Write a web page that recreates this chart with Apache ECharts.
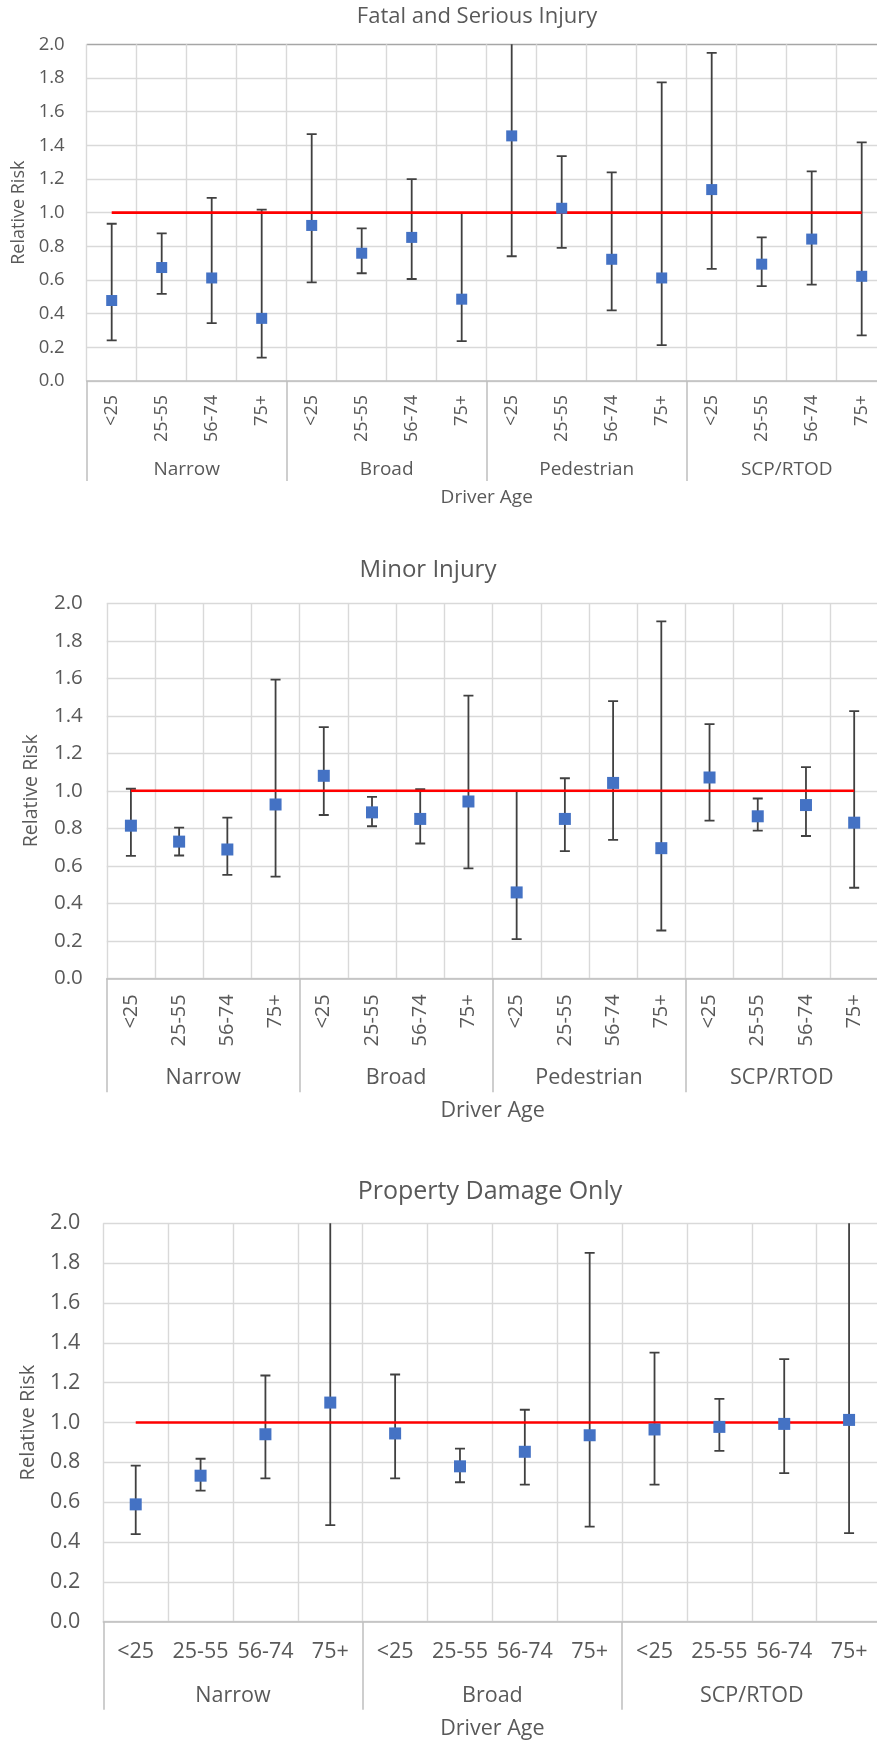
<!DOCTYPE html>
<html>
<head>
<meta charset="utf-8">
<script src="https://cdn.jsdelivr.net/npm/echarts@6/dist/echarts.min.js"></script>
<style>
  html, body { margin: 0; padding: 0; background: #ffffff; }
  #chart { width: 877px; height: 1742px; }
</style>
</head>
<body>
<div id="chart"></div>
<script>
// ---------------- DATA ----------------
const fsiGroups = ['Narrow', 'Broad', 'Pedestrian', 'SCP/RTOD'];
const fsiCats = ['<25', '25-55', '56-74', '75+', '<25', '25-55', '56-74', '75+',
                 '<25', '25-55', '56-74', '75+', '<25', '25-55', '56-74', '75+'];
const fsiRR = [0.478, 0.674, 0.612, 0.372, 0.924, 0.759, 0.853, 0.486,
               1.456, 1.026, 0.723, 0.612, 1.137, 0.694, 0.843, 0.622];
const fsiLo = [0.241, 0.517, 0.344, 0.139, 0.586, 0.640, 0.606, 0.237,
               0.741, 0.791, 0.420, 0.213, 0.666, 0.564, 0.572, 0.271];
const fsiHi = [0.934, 0.877, 1.088, 1.018, 1.466, 0.906, 1.199, 0.998,
               2.300, 1.336, 1.239, 1.774, 1.949, 0.853, 1.245, 1.418];

const minGroups = ['Narrow', 'Broad', 'Pedestrian', 'SCP/RTOD'];
const minCats = ['<25', '25-55', '56-74', '75+', '<25', '25-55', '56-74', '75+',
                 '<25', '25-55', '56-74', '75+', '<25', '25-55', '56-74', '75+'];
const minRR = [0.814, 0.729, 0.687, 0.927, 1.080, 0.885, 0.850, 0.943,
               0.458, 0.850, 1.042, 0.694, 1.071, 0.864, 0.924, 0.830];
const minLo = [0.653, 0.655, 0.552, 0.542, 0.871, 0.811, 0.719, 0.586,
               0.209, 0.678, 0.738, 0.255, 0.841, 0.788, 0.759, 0.483];
const minHi = [1.011, 0.804, 0.857, 1.593, 1.340, 0.968, 1.009, 1.508,
               0.998, 1.067, 1.478, 1.904, 1.356, 0.959, 1.126, 1.425];

const pdoGroups = ['Narrow', 'Broad', 'SCP/RTOD'];
const pdoCats = ['<25', '25-55', '56-74', '75+', '<25', '25-55', '56-74', '75+',
                 '<25', '25-55', '56-74', '75+'];
const pdoRR = [0.589, 0.733, 0.941, 1.100, 0.945, 0.780, 0.853, 0.936,
               0.965, 0.978, 0.993, 1.013];
const pdoLo = [0.440, 0.658, 0.720, 0.485, 0.720, 0.700, 0.688, 0.477,
               0.688, 0.858, 0.746, 0.445];
const pdoHi = [0.784, 0.818, 1.236, 2.400, 1.241, 0.869, 1.064, 1.852,
               1.351, 1.119, 1.318, 2.400];

const titles = ['Fatal and Serious Injury', 'Minor Injury', 'Property Damage Only'];
const yTicks = { min: 0.0, max: 2.0, step: 0.2 };
const refValue = 1.0;
const yName = 'Relative Risk';
const xName = 'Driver Age';

// ---------------- STYLE / LAYOUT ----------------
const FONT = 'Open Sans';
const TEXT = '#595959';
const GRID_C = '#d9d9d9';
const AXIS_C = '#bfbfbf';
const MARK_C = '#4472C4';
const ERR_C = '#404040';
const REF_C = '#ff0000';

const panels = [
  { title: titles[0], cats: fsiCats, groups: fsiGroups, rr: fsiRR, lo: fsiLo, hi: fsiHi,
    left: 86.7, top: 44.3, width: 800, height: 336.7,
    titleX: 477, titleY: 17, titleSize: 22,
    ySize: 18.5, yMargin: 22, yNameSize: 18, yNameGap: 59,
    xSize: 18, xRotate: 90, xMargin: 14,
    gSize: 19, gMargin: 79, gTick: 100, xNameSize: 19, xNameGap: 107,
    mark: 11, topDark: true },
  { title: titles[1], cats: minCats, groups: minGroups, rr: minRR, lo: minLo, hi: minHi,
    left: 106.8, top: 603.3, width: 771.5, height: 375,
    titleX: 428, titleY: 570, titleSize: 24,
    ySize: 20.5, yMargin: 24, yNameSize: 19.5, yNameGap: 65,
    xSize: 20, xRotate: 90, xMargin: 16,
    gSize: 21.5, gMargin: 89, gTick: 114, xNameSize: 21.5, xNameGap: 122,
    mark: 12, topDark: false },
  { title: titles[2], cats: pdoCats, groups: pdoGroups, rr: pdoRR, lo: pdoLo, hi: pdoHi,
    left: 103.3, top: 1223.3, width: 778.2, height: 398.4,
    titleX: 490, titleY: 1192, titleSize: 25,
    ySize: 21.5, yMargin: 23, yNameSize: 20, yNameGap: 65,
    xSize: 21.5, xRotate: 0, xMargin: 19,
    gSize: 21.5, gMargin: 63, gTick: 88, xNameSize: 21.5, xNameGap: 96,
    mark: 12, topDark: false }
];

function errRender(params, api) {
  const x = api.value(0), lo = api.value(1), hi = api.value(2);
  const pLo = api.coord([x, lo]);
  const pHi = api.coord([x, hi]);
  const h = 5;
  const style = { stroke: ERR_C, lineWidth: 1.8 };
  return {
    type: 'group',
    children: [
      { type: 'line', shape: { x1: pLo[0], y1: pLo[1], x2: pHi[0], y2: pHi[1] }, style: style },
      { type: 'line', shape: { x1: pLo[0] - h, y1: pLo[1], x2: pLo[0] + h, y2: pLo[1] }, style: style },
      { type: 'line', shape: { x1: pHi[0] - h, y1: pHi[1], x2: pHi[0] + h, y2: pHi[1] }, style: style }
    ]
  };
}

const option = {
  backgroundColor: '#ffffff',
  animation: false,
  textStyle: { fontFamily: FONT },
  title: [], grid: [], xAxis: [], yAxis: [], series: []
};

panels.forEach(function (p, i) {
  option.title.push({
    text: p.title, left: p.titleX, top: p.titleY, padding: 0,
    textAlign: 'center', textVerticalAlign: 'middle',
    textStyle: { fontFamily: FONT, fontSize: p.titleSize, fontWeight: 'normal', color: TEXT }
  });
  option.grid.push({
    left: p.left, top: p.top, width: p.width, height: p.height,
    containLabel: false, outerBoundsMode: 'none'
  });
  const nLines = Math.round((yTicks.max - yTicks.min) / yTicks.step) + 1;
  const splitColors = [];
  for (let k = 0; k < nLines; k++) {
    splitColors.push(p.topDark && k === nLines - 1 ? '#a6a6a6' : GRID_C);
  }
  option.yAxis.push({
    type: 'value', gridIndex: i, min: yTicks.min, max: yTicks.max, interval: yTicks.step,
    name: yName, nameLocation: 'middle', nameGap: p.yNameGap,
    nameTextStyle: { fontFamily: FONT, fontSize: p.yNameSize, color: TEXT },
    axisLine: { show: false }, axisTick: { show: false },
    axisLabel: { fontFamily: FONT, fontSize: p.ySize, color: TEXT, margin: p.yMargin,
                 formatter: function (v) { return v.toFixed(1); } },
    splitLine: { show: true, lineStyle: { color: splitColors, width: 1.4 } }
  });
  // main category axis (age bands)
  option.xAxis.push({
    type: 'category', gridIndex: i, data: p.cats, position: 'bottom',
    axisLine: { show: true, onZero: false, lineStyle: { color: AXIS_C, width: 1.5 } },
    axisTick: { show: false },
    axisLabel: { interval: 0, rotate: p.xRotate, margin: p.xMargin,
                 fontFamily: FONT, fontSize: p.xSize, color: TEXT },
    splitLine: { show: true, interval: 0, lineStyle: { color: GRID_C, width: 1.4 } }
  });
  const mainX = option.xAxis.length - 1;
  // group axis (road-user groups)
  option.xAxis.push({
    type: 'category', gridIndex: i, data: p.groups, position: 'bottom', offset: 0,
    name: xName, nameLocation: 'middle', nameGap: p.xNameGap,
    nameTextStyle: { fontFamily: FONT, fontSize: p.xNameSize, color: TEXT },
    axisLine: { show: false, onZero: false },
    axisTick: { show: true, interval: 0, length: p.gTick, lineStyle: { color: AXIS_C, width: 1.5 } },
    axisLabel: { interval: 0, margin: p.gMargin, fontFamily: FONT, fontSize: p.gSize, color: TEXT },
    splitLine: { show: false }
  });

  const errData = p.cats.map(function (c, k) { return [k, p.lo[k], p.hi[k]]; });
  option.series.push({
    type: 'custom', xAxisIndex: mainX, yAxisIndex: i, clip: true, z: 2,
    renderItem: errRender, encode: { x: 0, y: [1, 2] }, data: errData, silent: true
  });
  option.series.push({
    type: 'line', xAxisIndex: mainX, yAxisIndex: i, z: 3, symbol: 'none', silent: true,
    lineStyle: { color: REF_C, width: 2.6 },
    data: p.cats.map(function () { return refValue; })
  });
  option.series.push({
    type: 'scatter', xAxisIndex: mainX, yAxisIndex: i, z: 4, symbol: 'rect',
    symbolSize: p.mark, itemStyle: { color: MARK_C, opacity: 1 },
    data: p.rr
  });
});

const chart = echarts.init(document.getElementById('chart'), null, { renderer: 'canvas' });
chart.setOption(option);
</script>
</body>
</html>
